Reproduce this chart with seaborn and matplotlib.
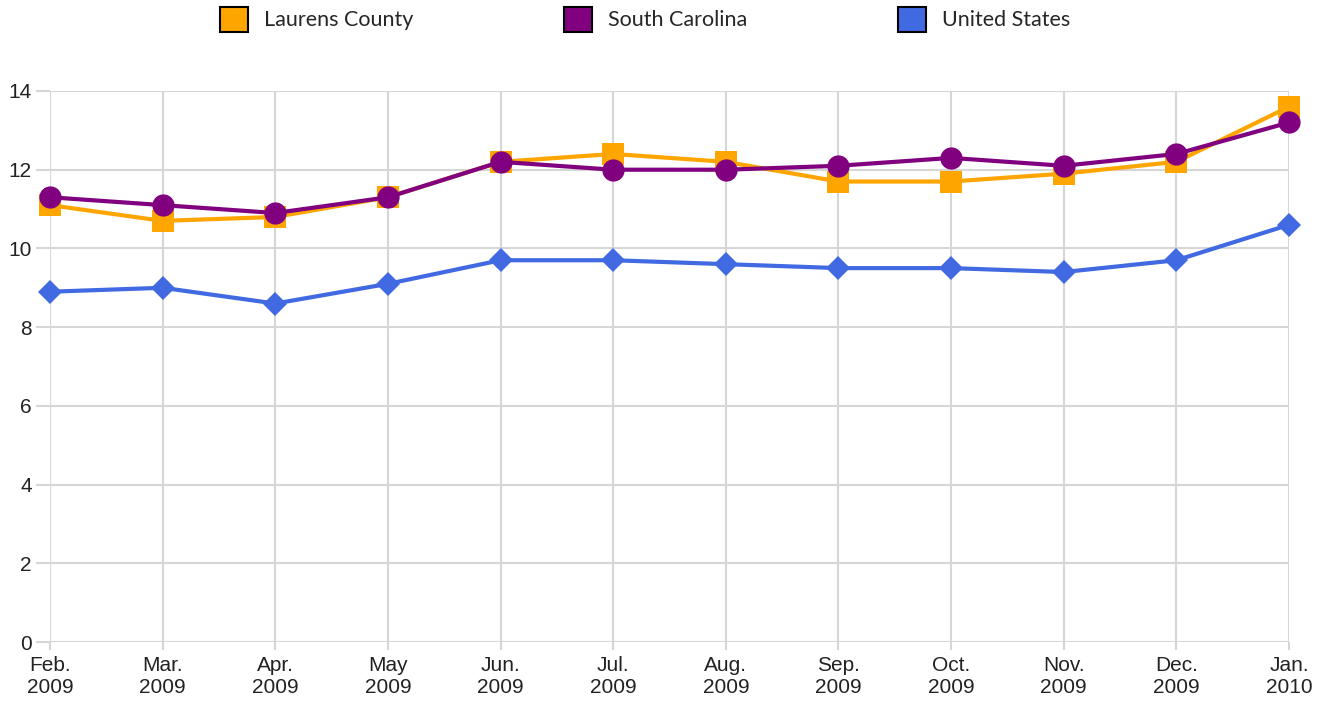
import matplotlib

matplotlib.use('Agg')
import matplotlib.pyplot as plt
from matplotlib.patches import Patch
import seaborn as sns
import pandas as pd

# 数据
months = ['Feb.\n2009', 'Mar.\n2009', 'Apr.\n2009', 'May\n2009', 'Jun.\n2009', 'Jul.\n2009',
          'Aug.\n2009', 'Sep.\n2009', 'Oct.\n2009', 'Nov.\n2009', 'Dec.\n2009', 'Jan.\n2010']
laurens = [11.1, 10.7, 10.8, 11.3, 12.2, 12.4, 12.2, 11.7, 11.7, 11.9, 12.2, 13.6]
south_carolina = [11.3, 11.1, 10.9, 11.3, 12.2, 12.0, 12.0, 12.1, 12.3, 12.1, 12.4, 13.2]
united_states = [8.9, 9.0, 8.6, 9.1, 9.7, 9.7, 9.6, 9.5, 9.5, 9.4, 9.7, 10.6]
series_names = ['Laurens County', 'South Carolina', 'United States']
colors = ['#FFA500', '#800080', '#4169E1']
markers = ['s', 'o', 'D']

rows = []
for name, vals in zip(series_names, [laurens, south_carolina, united_states]):
    for i, v in enumerate(vals):
        rows.append({'idx': i, 'value': v, 'series': name})
df = pd.DataFrame(rows)

sns.set_style('white')
plt.rcParams['font.family'] = ['Liberation Sans', 'DejaVu Sans']

fig = plt.figure(figsize=(13.22, 7.02), dpi=100)
ax = fig.add_axes([50 / 1322, 60 / 702, 1239 / 1322, 551 / 702])

sns.lineplot(data=df, x='idx', y='value', hue='series', style='series',
             hue_order=series_names, style_order=series_names,
             palette=dict(zip(series_names, colors)),
             markers=dict(zip(series_names, markers)), dashes=False,
             linewidth=3, markersize=16, markeredgewidth=0, ax=ax, legend=False)
for line in ax.lines:
    line.set_clip_on(False)
    line.set_zorder(3)
# 菱形单独调小
ax.lines[2].set_markersize(12.5)

grid_c = '#d6d6d6'
ax.set_xlim(0, len(months) - 1)
ax.set_ylim(0, 14)
ax.set_xticks(range(len(months)))
ax.set_xticklabels(months)
ax.set_yticks(range(0, 15, 2))
ax.grid(True, color=grid_c, linewidth=1.5)
for s in ax.spines.values():
    s.set_visible(False)
ax.tick_params(axis='both', width=1.5, color=grid_c, labelsize=15,
               labelcolor='#222222', bottom=True, left=True)
ax.tick_params(axis='x', length=6, pad=4)
ax.tick_params(axis='y', length=10, pad=3)
ax.set_xlabel('')
ax.set_ylabel('')

handles = [Patch(facecolor=c, edgecolor='black', linewidth=1.5) for c in colors]
fig.legend(handles, series_names, loc='upper center', bbox_to_anchor=(0.488, 1.018),
           ncol=3, frameon=False, handlelength=1.3, handleheight=1.4,
           handletextpad=0.75, columnspacing=7.0,
           prop={'family': 'Lato', 'size': 15.5})

plt.savefig('out.png', dpi=100)
plt.close()
